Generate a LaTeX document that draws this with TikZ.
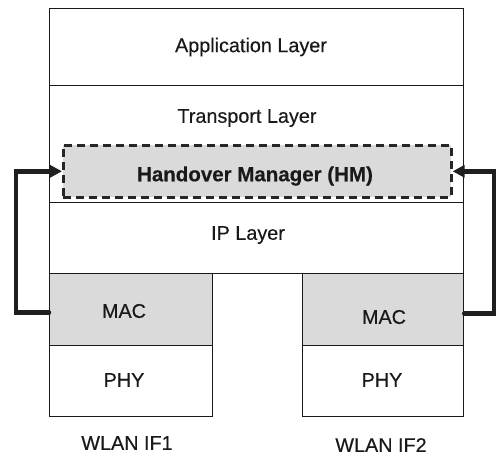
\documentclass[tikz,border=0pt]{standalone}
\usepackage{fontspec}
\setmainfont{Liberation Sans}[FakeBold=0.35]
\usetikzlibrary{arrows.meta}
\definecolor{layergray}{gray}{0.855}
\begin{document}
\begin{tikzpicture}[x=1pt,y=-1pt,
  layer/.style={draw=black!90,line width=1.2pt,rectangle,inner sep=0pt,anchor=north west},
  lbl/.style={font=\fontsize{19.8}{22}\selectfont,text=black!90,inner sep=0pt},
  hmbox/.style={draw=black!85,fill=layergray,line width=2.6pt,dash pattern=on 8pt off 5pt,rectangle,inner sep=0pt,anchor=north west},
  conn/.style={draw=black!88,line width=4.4pt,line cap=round,-{Triangle[length=12pt,width=12pt]}}]
\useasboundingbox (0,0) rectangle (497,459);

% protocol stack
\node[layer,minimum width=414pt,minimum height=77pt] (app) at (49,8) {};
\node[layer,minimum width=414pt,minimum height=117pt] (trans) at (49,85) {};
\node[layer,minimum width=414pt,minimum height=71pt] (ip) at (49,202) {};
\node[hmbox,minimum width=388pt,minimum height=52pt] (hm) at (62,144) {};

% interface 1
\node[layer,fill=layergray,minimum width=163pt,minimum height=72pt] (mac1) at (49,273) {};
\node[layer,minimum width=163pt,minimum height=71pt] (phy1) at (49,345) {};
% interface 2
\node[layer,fill=layergray,minimum width=161pt,minimum height=72pt] (mac2) at (302,273) {};
\node[layer,minimum width=161pt,minimum height=71pt] (phy2) at (302,345) {};

% labels
\node[lbl] (tapp) at (251,47) {Application Layer};
\node[lbl] (ttrans) at (247,118) {Transport Layer};
\node[lbl,font=\fontsize{20.5}{22}\selectfont\bfseries] (thm) at (255,176) {Handover Manager (HM)};
\node[lbl] (tip) at (248,235) {IP Layer};
\node[lbl] (tmac1) at (124,311) {MAC};
\node[lbl] (tphy1) at (124,380) {PHY};
\node[lbl] (tmac2) at (384,317) {MAC};
\node[lbl] (tphy2) at (382,380) {PHY};
\node[lbl] (tif1) at (127,443) {WLAN IF1};
\node[lbl] (tif2) at (381,445) {WLAN IF2};

% MAC-to-HM signalling paths
\draw[conn] ([yshift=-3pt]mac1.west) -- ++(-33pt,0) |- (hm.west);
\draw[conn] ([yshift=-4pt]mac2.east) -- ++(30pt,0) |- (hm.east);
\end{tikzpicture}
\end{document}
